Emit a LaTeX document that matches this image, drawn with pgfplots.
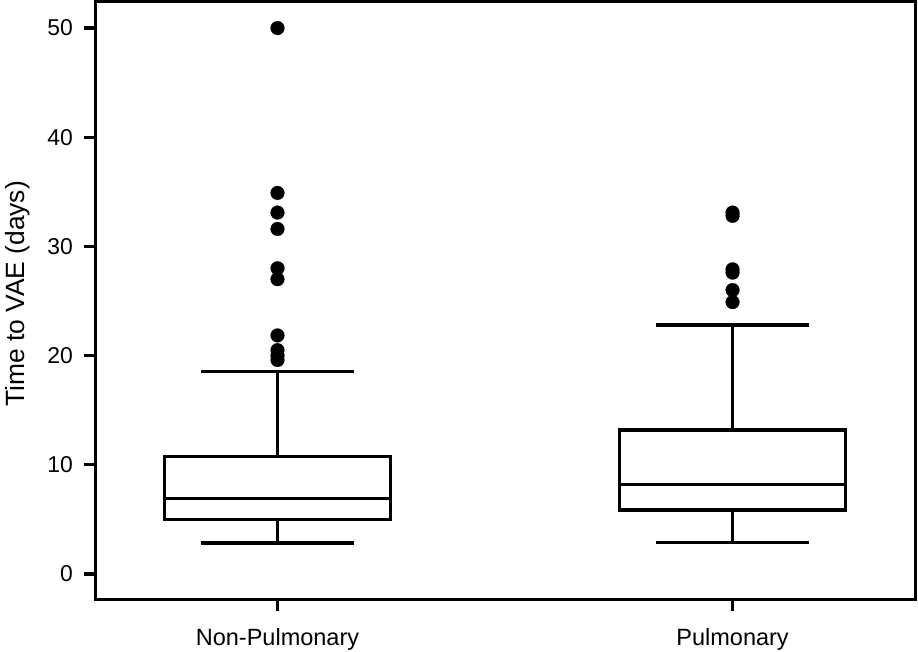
\documentclass[border=0pt]{standalone}
\usepackage{pgfplots}
\pgfplotsset{compat=1.18}
\usepackage{fontspec}
\setmainfont{Liberation Sans}
\pgfplotsset{bx/.style={black, solid, line width=1.6bp, line join=miter, line cap=butt, no markers}}
\begin{document}
\begin{tikzpicture}
\begin{axis}[
  name=ax,
  scale only axis,
  width=409.85bp, height=299bp,
  xmin=0.6007, xmax=2.402,
  ymin=-2.32, ymax=52.45,
  axis line style={line width=1.6bp, black},
  tick pos=left,
  tick align=outside,
  major tick length=6bp,
  tick style={line width=1.6bp, black},
  xtick={1,2},
  xticklabels={Non-Pulmonary, Pulmonary},
  ytick={0,10,20,30,40,50},
  /pgf/number format/assume math mode=true,
  ticklabel style={inner sep=0pt},
  yticklabel style={font=\fontsize{11.5}{13}\selectfont, anchor=east, xshift=-5.25bp},
  xticklabel style={font=\fontsize{11.8}{13}\selectfont, anchor=north, yshift=-8.5bp},
  ylabel={Time to VAE (days)},
  ylabel style={font=\fontsize{13.25}{15}\selectfont, inner sep=0pt, at={(rel axis cs:0,0.5)}, anchor=north, yshift=45.4bp, xshift=3.15bp},
  clip=false,
]
% Non-Pulmonary: lower whisker 2.83, Q1 4.97, median 6.9, Q3 10.75, upper whisker 18.58
\addplot[bx] coordinates {(0.7515,4.97) (1.2485,4.97) (1.2485,10.75) (0.7515,10.75)} -- cycle;
\addplot[bx] coordinates {(0.7515,6.9) (1.2485,6.9)};
\addplot[bx] coordinates {(1,10.75) (1,18.58)};
\addplot[bx] coordinates {(0.832,18.58) (1.168,18.58)};
\addplot[bx] coordinates {(1,4.97) (1,2.83)};
\addplot[bx] coordinates {(0.832,2.83) (1.168,2.83)};
% Pulmonary: lower whisker 2.85, Q1 5.86, median 8.2, Q3 13.19, upper whisker 22.8
\addplot[bx] coordinates {(1.7515,5.86) (2.2485,5.86) (2.2485,13.19) (1.7515,13.19)} -- cycle;
\addplot[bx] coordinates {(1.7515,8.2) (2.2485,8.2)};
\addplot[bx] coordinates {(2,13.19) (2,22.8)};
\addplot[bx] coordinates {(1.832,22.8) (2.168,22.8)};
\addplot[bx] coordinates {(2,5.86) (2,2.85)};
\addplot[bx] coordinates {(1.832,2.85) (2.168,2.85)};
% outliers
\addplot[only marks, mark=*, mark size=3.45bp,
  mark options={solid, fill=black, draw=black, line width=0.1bp}]
  coordinates {(1,50.0) (1,34.9) (1,33.1) (1,31.6) (1,28.0) (1,27.0) (1,21.85) (1,20.5) (1,20.0) (1,19.6)
               (2,33.1) (2,32.8) (2,27.9) (2,27.6) (2,26.0) (2,24.9)};
\end{axis}
\pgfresetboundingbox
\useasboundingbox ([shift={(-47.9bp,-26.35bp)}]ax.south west) rectangle ++(459bp,326bp);
\end{tikzpicture}
\end{document}
